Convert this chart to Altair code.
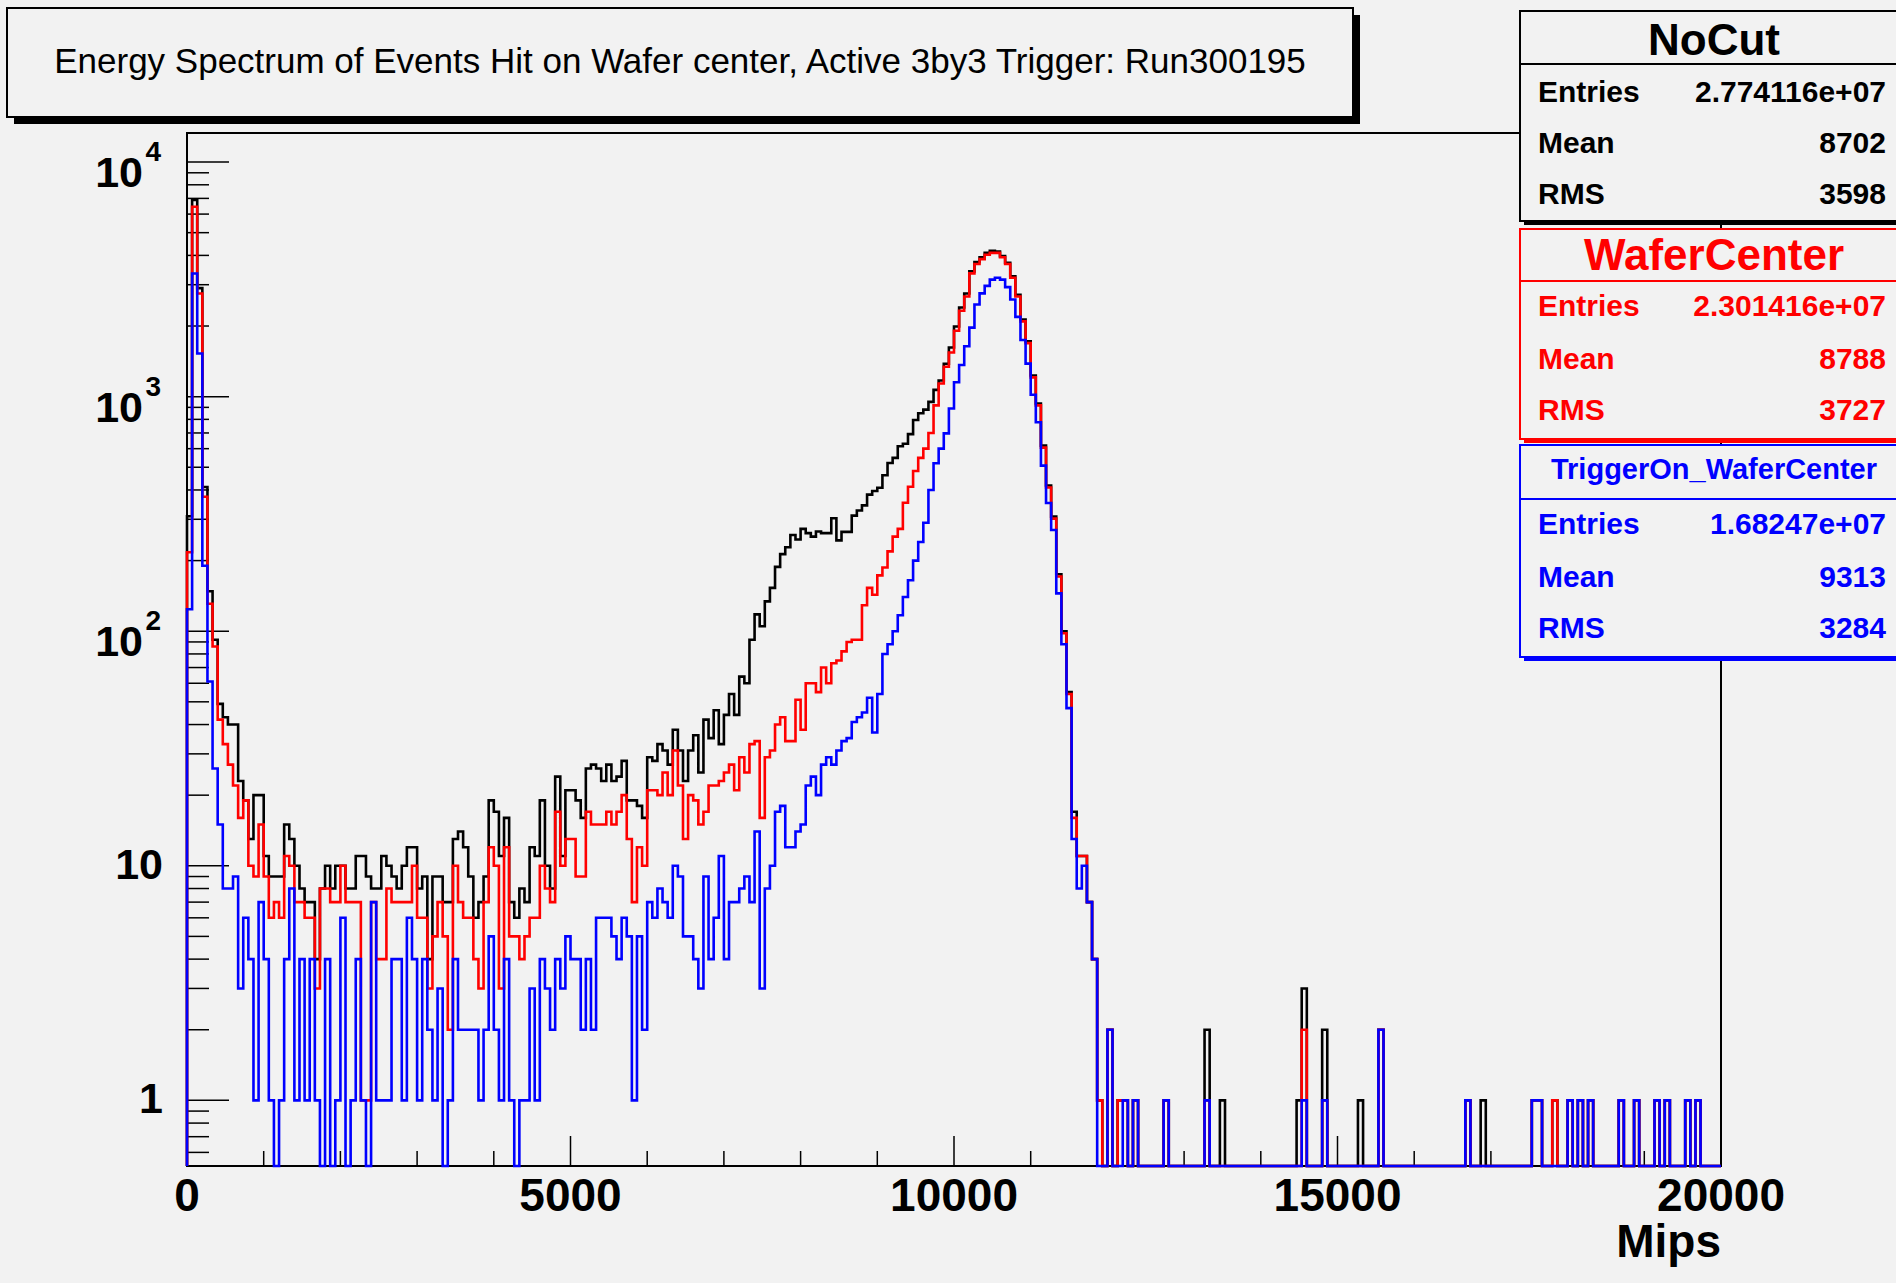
import altair as alt
import pandas as pd

# Histogram binning: 300 equal bins over 0..20000 Mips, counts on a log axis
X_LO, X_HI = 0, 20000
Y_LO, Y_HI = 0.525, 13300

# Bin contents (low edge first) ------------------------------------------------
nocut = [
    309, 6890, 2900, 412, 148, 92, 49, 43, 40, 40,
    23, 19, 13, 20, 20, 11, 9, 9, 9, 15,
    13, 10, 8, 7, 7, 4, 8, 10, 8, 10,
    10, 8, 8, 11, 11, 9, 8, 8, 11, 10,
    9, 8, 10, 12, 12, 8, 9, 4, 9, 9,
    7, 7, 13, 14, 12, 9, 6, 7, 9, 19,
    17, 11, 16, 7, 6, 8, 7, 12, 11, 19,
    10, 8, 24, 11, 21, 21, 19, 16, 26, 27,
    26, 23, 27, 23, 24, 28, 19, 19, 18, 16,
    29, 28, 33, 31, 27, 38, 31, 23, 31, 36,
    25, 42, 35, 46, 33, 44, 54, 44, 64, 60,
    92, 118, 105, 134, 153, 188, 213, 228, 257, 246,
    273, 262, 253, 266, 262, 262, 303, 244, 265, 265,
    311, 327, 344, 382, 396, 409, 462, 521, 548, 614,
    630, 692, 795, 850, 880, 950, 1069, 1172, 1380, 1620,
    1990, 2400, 2750, 3420, 3750, 3928, 4100, 4180, 4150, 3970,
    3720, 3260, 2720, 2130, 1720, 1230, 935, 618, 418, 308,
    175, 100, 55, 17, 11, 11, 7, 4, 1, 0,
    2, 0, 1, 1, 0, 1, 0, 0, 0, 0,
    0, 1, 0, 0, 0, 0, 0, 0, 0, 2,
    0, 0, 1, 0, 0, 0, 0, 0, 0, 0,
    0, 0, 0, 0, 0, 0, 0, 1, 3, 0,
    0, 0, 2, 0, 0, 0, 0, 0, 0, 1,
    0, 0, 0, 2, 0, 0, 0, 0, 0, 0,
    0, 0, 0, 0, 0, 0, 0, 0, 0, 0,
    1, 0, 0, 1, 0, 0, 0, 0, 0, 0,
    0, 0, 0, 1, 1, 0, 0, 1, 0, 0,
    1, 0, 1, 0, 1, 0, 0, 0, 0, 0,
    1, 0, 0, 1, 0, 0, 0, 1, 0, 1,
    0, 0, 0, 1, 0, 1, 0, 0, 0, 0,
]

wafer_center = [
    217, 6450, 2750, 374, 131, 86, 42, 33, 27, 22,
    16, 19, 10, 9, 15, 9, 6, 7, 6, 11,
    10, 7, 7, 6, 6, 3, 8, 8, 7, 7,
    10, 7, 7, 7, 1, 1, 7, 4, 4, 8,
    7, 7, 7, 7, 10, 6, 6, 3, 5, 7,
    5, 2, 10, 7, 6, 6, 4, 3, 7, 12,
    10, 3, 12, 5, 5, 4, 5, 6, 6, 10,
    8, 7, 17, 10, 13, 13, 9, 9, 17, 15,
    15, 15, 17, 15, 17, 20, 13, 7, 12, 10,
    21, 21, 20, 25, 20, 31, 22, 13, 20, 19,
    15, 17, 22, 22, 23, 25, 27, 21, 29, 25,
    33, 34, 16, 29, 31, 40, 43, 34, 34, 51,
    38, 60, 60, 55, 70, 60, 73, 75, 82, 90,
    92, 92, 129, 153, 143, 173, 187, 219, 253, 273,
    353, 413, 482, 548, 600, 700, 918, 1137, 1341, 1543,
    1910, 2323, 2674, 3352, 3675, 3855, 4027, 4101, 4101, 3928,
    3675, 3212, 2674, 2094, 1690, 1208, 918, 606, 410, 302,
    171, 98, 54, 16, 11, 11, 7, 4, 1, 0,
    2, 0, 1, 1, 0, 1, 0, 0, 0, 0,
    0, 1, 0, 0, 0, 0, 0, 0, 0, 1,
    0, 0, 0, 0, 0, 0, 0, 0, 0, 0,
    0, 0, 0, 0, 0, 0, 0, 0, 2, 0,
    0, 0, 1, 0, 0, 0, 0, 0, 0, 0,
    0, 0, 0, 2, 0, 0, 0, 0, 0, 0,
    0, 0, 0, 0, 0, 0, 0, 0, 0, 0,
    1, 0, 0, 0, 0, 0, 0, 0, 0, 0,
    0, 0, 0, 1, 1, 0, 0, 1, 0, 0,
    1, 0, 1, 0, 1, 0, 0, 0, 0, 0,
    1, 0, 0, 1, 0, 0, 0, 1, 0, 1,
    0, 0, 0, 1, 0, 1, 0, 0, 0, 0,
]

trigger_on = [
    124, 3350, 1527, 190, 61, 26, 15, 8, 8, 9,
    3, 6, 4, 1, 7, 4, 1, 0, 1, 4,
    8, 1, 4, 1, 4, 1, 0, 4, 0, 1,
    6, 0, 1, 4, 1, 0, 7, 1, 1, 1,
    4, 4, 1, 6, 4, 1, 4, 2, 1, 3,
    0, 1, 4, 2, 2, 2, 2, 1, 2, 5,
    2, 1, 4, 1, 0, 1, 1, 3, 1, 4,
    3, 2, 4, 3, 5, 4, 4, 2, 4, 2,
    6, 6, 6, 5, 4, 6, 5, 1, 5, 2,
    7, 6, 8, 7, 6, 10, 9, 5, 5, 4,
    3, 9, 4, 6, 11, 4, 7, 7, 8, 9,
    7, 14, 3, 8, 10, 17, 18, 12, 12, 14,
    15, 22, 24, 20, 27, 29, 27, 31, 34, 35,
    41, 43, 45, 52, 37, 54, 80, 88, 100, 117,
    140, 165, 200, 240, 290, 400, 520, 600, 697, 890,
    1151, 1365, 1640, 1968, 2470, 2756, 2966, 3155, 3212, 3155,
    2930, 2594, 2187, 1743, 1383, 1019, 778, 508, 352, 270,
    145, 88, 47, 13, 8, 10, 7, 4, 0, 0,
    2, 0, 0, 1, 0, 1, 0, 0, 0, 0,
    0, 1, 0, 0, 0, 0, 0, 0, 0, 1,
    0, 0, 0, 0, 0, 0, 0, 0, 0, 0,
    0, 0, 0, 0, 0, 0, 0, 0, 1, 0,
    0, 0, 1, 0, 0, 0, 0, 0, 0, 0,
    0, 0, 0, 2, 0, 0, 0, 0, 0, 0,
    0, 0, 0, 0, 0, 0, 0, 0, 0, 0,
    1, 0, 0, 0, 0, 0, 0, 0, 0, 0,
    0, 0, 0, 1, 1, 0, 0, 0, 0, 0,
    1, 0, 1, 0, 1, 0, 0, 0, 0, 0,
    1, 0, 0, 1, 0, 0, 0, 1, 0, 1,
    0, 0, 0, 1, 0, 1, 0, 0, 0, 0,
]

# Statistics boxes
series_names = ["NoCut", "WaferCenter", "TriggerOn_WaferCenter"]
series_colors = ["#000000", "#ff0000", "#0000ff"]
stat_entries = ["2.774116e+07", "2.301416e+07", "1.68247e+07"]
stat_mean = ["8702", "8788", "9313"]
stat_rms = ["3598", "3727", "3284"]

title_text = "Energy Spectrum of Events Hit on Wafer center, Active 3by3 Trigger: Run300195"
x_title = "Mips"

# Axis ticks
x_major = [0, 5000, 10000, 15000, 20000]
x_minor = [1000, 2000, 3000, 4000, 6000, 7000, 8000, 9000,
           11000, 12000, 13000, 14000, 16000, 17000, 18000, 19000]
y_major = [1, 10, 100, 1000, 10000]
y_minor = [0.6, 0.7, 0.8, 0.9] + [m * d for d in (1, 10, 100, 1000) for m in range(2, 10)]
y_label_value = [1, 10, 100, 1000, 10000]
y_label_base = ["1", "10", "10", "10", "10"]
y_label_exp = ["", "", "2", "3", "4"]

FONT = "Liberation Sans"
BG = "#f2f2f2"
W, H = 1534, 1033

xs = alt.Scale(domain=[X_LO, X_HI], nice=False, zero=False)
ys = alt.Scale(type="log", domain=[Y_LO, Y_HI], nice=False)


def outline(counts):
    """Step outline of a histogram: rises from the floor at the low edge,
    runs along each bin, and drops back to the floor at the high edge."""
    step = (X_HI - X_LO) / len(counts)
    edges, ns, seq = [X_LO], [0], [0]
    for i, c in enumerate(counts):
        edges.append(X_LO + i * step)
        ns.append(c)
        seq.append(i + 1)
    edges += [X_HI, X_HI]
    ns += [counts[-1], 0]
    seq += [len(counts) + 1, len(counts) + 2]
    return pd.DataFrame({"edge": edges, "n": ns, "seq": seq})


one = pd.DataFrame({"k": [0]})


def rect(x1, x2, y1, y2, fill, stroke=None, sw=0):
    kw = dict(fill=fill)
    if stroke:
        kw.update(stroke=stroke, strokeWidth=sw)
    return alt.Chart(one).mark_rect(**kw).encode(
        x=alt.value(x1), x2=alt.value(x2), y=alt.value(y1), y2=alt.value(y2))


def hline(x1, x2, y, color, sw=2):
    return alt.Chart(one).mark_rule(color=color, strokeWidth=sw).encode(
        x=alt.value(x1), x2=alt.value(x2), y=alt.value(y))


def label(x, y, s, size, color="black", align="left", weight="bold"):
    return alt.Chart(one).mark_text(
        font=FONT, fontSize=size, fontWeight=weight, color=color,
        align=align, baseline="middle").encode(
        x=alt.value(x), y=alt.value(y), text=alt.value(s))


layers = []

# ticks drawn inside the frame
layers.append(alt.Chart(pd.DataFrame({"v": y_major})).mark_rule(color="black", strokeWidth=1.5).encode(
    y=alt.Y("v:Q", scale=ys, axis=None), x=alt.value(0), x2=alt.value(42)))
layers.append(alt.Chart(pd.DataFrame({"v": y_minor})).mark_rule(color="black", strokeWidth=1.5).encode(
    y=alt.Y("v:Q", scale=ys, axis=None), x=alt.value(0), x2=alt.value(22)))
layers.append(alt.Chart(pd.DataFrame({"v": x_major})).mark_rule(color="black", strokeWidth=1.5).encode(
    x=alt.X("v:Q", scale=xs, axis=None), y=alt.value(H), y2=alt.value(H - 30)))
layers.append(alt.Chart(pd.DataFrame({"v": x_minor})).mark_rule(color="black", strokeWidth=1.5).encode(
    x=alt.X("v:Q", scale=xs, axis=None), y=alt.value(H), y2=alt.value(H - 15)))

# the three histograms, NoCut underneath, trigger selection on top
for counts, color in zip([nocut, wafer_center, trigger_on], series_colors):
    layers.append(
        alt.Chart(outline(counts)).transform_calculate(
            shown=f"max(datum.n, {Y_LO})"
        ).mark_line(interpolate="step-after", color=color, strokeWidth=2.6).encode(
            x=alt.X("edge:Q", scale=xs, axis=None),
            y=alt.Y("shown:Q", scale=ys, axis=None),
            order=alt.Order("seq:Q"),
        )
    )

# axis labels
layers.append(alt.Chart(pd.DataFrame({"v": x_major})).mark_text(
    font=FONT, fontSize=46, fontWeight="bold", align="center", baseline="middle").encode(
    x=alt.X("v:Q", scale=xs, axis=None), y=alt.value(H + 31),
    text=alt.Text("v:Q", format="d")))
layers.append(label(W, H + 77, x_title, 46, align="right"))

ylab = pd.DataFrame({"v": y_label_value, "base": y_label_base, "exp": y_label_exp})
layers.append(alt.Chart(ylab).transform_filter("datum.exp == ''").mark_text(
    font=FONT, fontSize=43, fontWeight="bold", align="right", baseline="middle").encode(
    y=alt.Y("v:Q", scale=ys, axis=None), x=alt.value(-24), text="base:N"))
layers.append(alt.Chart(ylab).transform_filter("datum.exp != ''").mark_text(
    font=FONT, fontSize=43, fontWeight="bold", align="right", baseline="middle", dy=12).encode(
    y=alt.Y("v:Q", scale=ys, axis=None), x=alt.value(-44), text="base:N"))
layers.append(alt.Chart(ylab).transform_filter("datum.exp != ''").mark_text(
    font=FONT, fontSize=28, fontWeight="bold", align="right", baseline="middle", dy=-9).encode(
    y=alt.Y("v:Q", scale=ys, axis=None), x=alt.value(-26), text="exp:N"))

# title pave with drop shadow
layers.append(rect(-173, 1173, -118, -9, "black"))
layers.append(rect(-180, 1166, -125, -16, BG, "black", 2))
layers.append(label(493, -71, title_text, 35, align="center", weight="normal"))

# statistics panes
box_top = [-122, 96, 312]
box_div = [-69, 148, 366]
box_bot = [88, 306, 524]
box_title_y = [-91, 124, 337]
box_rows_y = [[-40, 11, 62], [174, 227, 278], [392, 445, 496]]
title_sizes = [44, 44, 29]
BX0, BX1 = 1333, 1745
for i in range(3):
    c = series_colors[i]
    layers.append(rect(BX0 + 4, BX1 + 4, box_top[i] + 4, box_bot[i] + 4, c))
    layers.append(rect(BX0, BX1, box_top[i], box_bot[i], BG, c, 2))
    layers.append(hline(BX0, BX1, box_div[i], c))
    layers.append(label(1527, box_title_y[i], series_names[i], title_sizes[i], c, align="center"))
    for row_y, name, val in zip(box_rows_y[i], ["Entries", "Mean", "RMS"],
                                [stat_entries[i], stat_mean[i], stat_rms[i]]):
        layers.append(label(1351, row_y, name, 30, c))
        layers.append(label(1699, row_y, val, 30, c, align="right"))

chart = alt.layer(*layers).properties(
    width=W, height=H,
    padding={"left": 187, "top": 133, "right": 175, "bottom": 117},
    autosize=alt.AutoSizeParams(type="none"),
    background=BG,
).configure_view(stroke="black", strokeWidth=2, fill=BG)

chart.save("out.html", embed_options={"renderer": "svg", "actions": False})
